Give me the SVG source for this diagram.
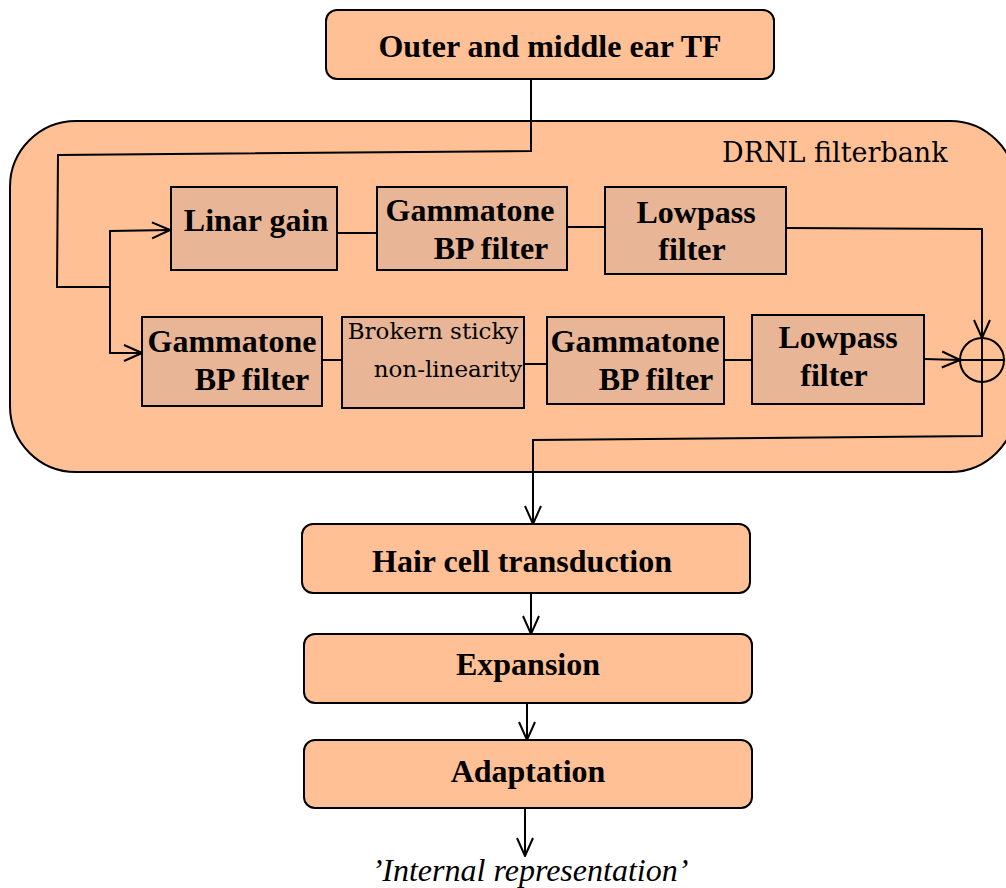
<svg xmlns="http://www.w3.org/2000/svg" width="1006" height="888" viewBox="0 0 1006 888">
<defs>
<style>
.main{fill:#FFC096;stroke:#000;stroke-width:2}
.blk{fill:#E8B596;stroke:#000;stroke-width:2}
.b{font-family:"Liberation Serif",serif;font-weight:bold;font-size:32px;fill:#000}
.r{font-family:"DejaVu Serif","Liberation Serif",serif;font-size:23px;fill:#000}
.lbl{font-family:"DejaVu Serif","Liberation Serif",serif;font-size:27px;fill:#000}
.it{font-family:"Liberation Serif",serif;font-style:italic;font-size:32px;fill:#000}
.ln{fill:none;stroke:#000;stroke-width:2}
</style>
<marker id="ah" viewBox="0 0 20 20" refX="19" refY="10" markerWidth="20" markerHeight="20" markerUnits="userSpaceOnUse" orient="auto">
<path d="M1,2 L19,10 L1,18" fill="none" stroke="#000" stroke-width="2"/>
</marker>
</defs>
<rect width="1006" height="888" fill="#fff"/>
<g id="drnl">
<rect class="main" x="10" y="121" width="1006" height="351" rx="66"/>
<text class="lbl" x="722" y="162">DRNL filterbank</text>
</g>
<g id="outer">
<rect class="main" x="326" y="10" width="448" height="69" rx="11"/>
<text class="b" x="550" y="57" text-anchor="middle">Outer and middle ear TF</text>
</g>
<g id="linar">
<rect class="blk" x="171" y="187" width="166" height="83"/>
<text class="b" x="256" y="231" text-anchor="middle">Linar gain</text>
</g>
<g id="gt2">
<rect class="blk" x="377" y="187" width="190" height="83"/>
<text class="b" x="470" y="221" text-anchor="middle">Gammatone</text>
<text class="b" x="491" y="259" text-anchor="middle">BP filter</text>
</g>
<g id="lp1">
<rect class="blk" x="605" y="187" width="181" height="87"/>
<text class="b" x="696" y="223" text-anchor="middle">Lowpass</text>
<text class="b" x="692" y="260" text-anchor="middle">filter</text>
</g>
<g id="gt1">
<rect class="blk" x="142" y="317" width="180" height="89"/>
<text class="b" x="232" y="352" text-anchor="middle">Gammatone</text>
<text class="b" x="252" y="390" text-anchor="middle">BP filter</text>
</g>
<g id="bsnl">
<rect class="blk" x="342" y="317" width="182" height="91"/>
<text class="r" x="433" y="339" text-anchor="middle">Brokern sticky</text>
<text class="r" x="448" y="377" text-anchor="middle">non-linearity</text>
</g>
<g id="gt3">
<rect class="blk" x="547" y="317" width="177" height="87"/>
<text class="b" x="635" y="352" text-anchor="middle">Gammatone</text>
<text class="b" x="656" y="390" text-anchor="middle">BP filter</text>
</g>
<g id="lp2">
<rect class="blk" x="752" y="315" width="172" height="89"/>
<text class="b" x="838" y="348" text-anchor="middle">Lowpass</text>
<text class="b" x="834" y="386" text-anchor="middle">filter</text>
</g>
<g id="sum">
<circle cx="982" cy="360" r="22" fill="none" stroke="#000" stroke-width="2"/>
<line class="ln" x1="960" y1="360" x2="1004" y2="360"/>
<line class="ln" x1="982" y1="338" x2="982" y2="382"/>
</g>
<g id="hair">
<rect class="main" x="302" y="524" width="448" height="69" rx="11"/>
<text class="b" x="522" y="572" text-anchor="middle">Hair cell transduction</text>
</g>
<g id="exp">
<rect class="main" x="304" y="634" width="448" height="69" rx="11"/>
<text class="b" x="528" y="675" text-anchor="middle">Expansion</text>
</g>
<g id="adapt">
<rect class="main" x="304" y="740" width="448" height="68" rx="11"/>
<text class="b" x="528" y="782" text-anchor="middle">Adaptation</text>
</g>
<text class="it" x="530" y="881" text-anchor="middle">’Internal representation’</text>
<g id="connectors">
<path class="ln" d="M531,79 L531,151 L58,155 L57,287 L110,287"/>
<path class="ln" d="M110,287 L110,231 L170,230" marker-end="url(#ah)"/>
<path class="ln" d="M110,287 L110,353 L142,353" marker-end="url(#ah)"/>
<path class="ln" d="M337,233 L377,233"/>
<path class="ln" d="M567,227 L605,227"/>
<path class="ln" d="M786,228 L982,229 L982,338" marker-end="url(#ah)"/>
<path class="ln" d="M322,360 L342,360"/>
<path class="ln" d="M524,364 L547,364"/>
<path class="ln" d="M724,360 L752,360"/>
<path class="ln" d="M924,359 L960,360" marker-end="url(#ah)"/>
<path class="ln" d="M982,382 L982,436 L533,440 L533,524" marker-end="url(#ah)"/>
<path class="ln" d="M531,593 L531,634" marker-end="url(#ah)"/>
<path class="ln" d="M527,703 L527,740" marker-end="url(#ah)"/>
<path class="ln" d="M525,808 L525,856" marker-end="url(#ah)"/>
</g>
</svg>
